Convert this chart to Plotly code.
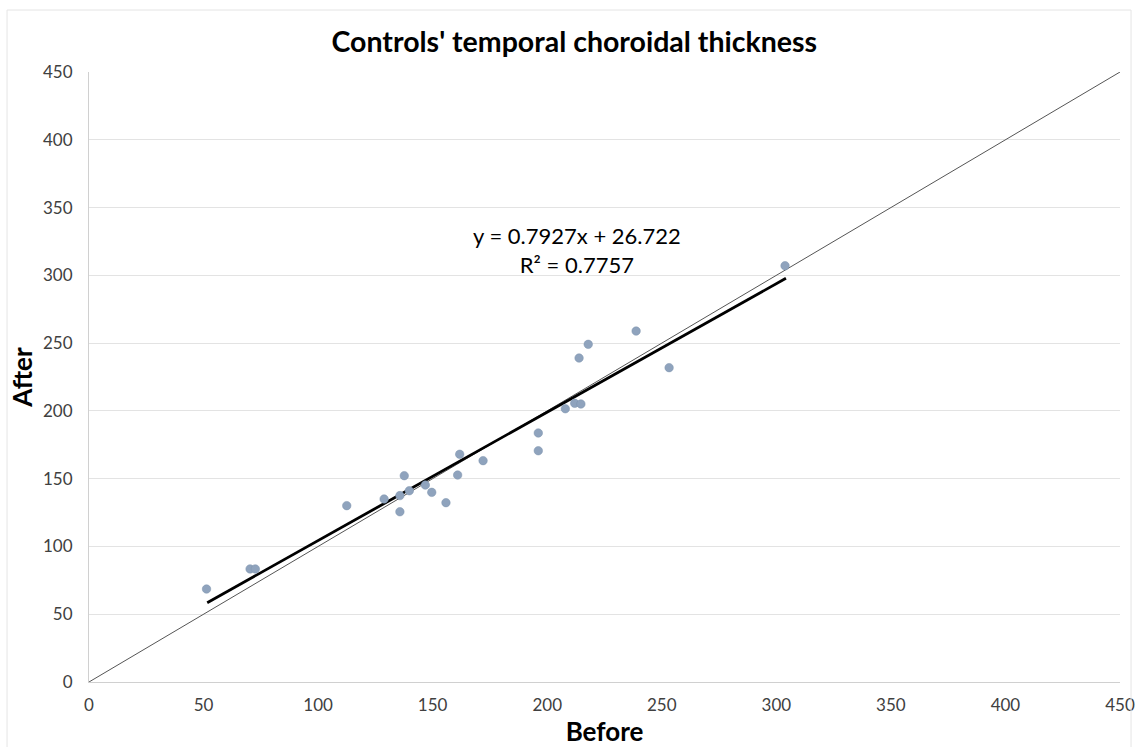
import plotly.graph_objects as go

# Data
before = [51.3, 70.3, 72.6, 112.5, 128.8, 135.7, 135.7, 137.6, 139.8, 146.8,
          149.6, 155.8, 160.9, 161.8, 172.0, 196.1, 196.1, 207.9, 212.0, 214.7,
          213.9, 217.9, 238.8, 253.2, 303.8]
after = [68.6, 83.4, 83.4, 130.1, 135.0, 125.6, 137.5, 152.2, 141.1, 145.3,
         139.9, 132.3, 152.7, 168.0, 163.3, 170.6, 183.7, 201.6, 205.6, 205.1,
         239.0, 249.1, 258.9, 231.9, 307.1]
# Trendline as drawn in the chart (endpoints)
trend_x = [51.6, 304.2]
trend_y = [58.5, 297.8]
equation = "y = 0.7927x + 26.722"
r2_label = "R² = 0.7757"
identity = [0, 450]
ticks = [0, 50, 100, 150, 200, 250, 300, 350, 400, 450]

font_fam = "Lato, 'Open Sans', Arial, sans-serif"

fig = go.Figure()
fig.add_trace(go.Scatter(x=identity, y=identity, mode="lines",
                         line=dict(color="#555555", width=1), hoverinfo="skip"))
fig.add_trace(go.Scatter(x=trend_x, y=trend_y, mode="lines",
                         line=dict(color="#000000", width=2.8)))
fig.add_trace(go.Scatter(x=before, y=after, mode="markers",
                         marker=dict(color="#8fa3bd", size=8.5,
                                     line=dict(color="#7d92ad", width=0.5))))

fig.update_layout(
    width=1135, height=747,
    margin=dict(l=89, r=15, t=72, b=65),
    paper_bgcolor="white", plot_bgcolor="white",
    showlegend=False,
    font=dict(family=font_fam, color="#404040"),
    title=dict(text="<b>Controls' temporal choroidal thickness</b>",
               x=0.506, xanchor="center", y=0.9438, yanchor="middle",
               font=dict(size=28.5, color="#000000", family=font_fam)),
    xaxis=dict(range=[0, 450], tickvals=ticks, showgrid=False, zeroline=False,
               showline=True, linecolor="#d0d0d0", linewidth=1,
               tickfont=dict(size=17, color="#404040"), ticks="",
               ticklabelstandoff=8, automargin=False,
               title=dict(text="<b>Before</b>", font=dict(size=26, color="#000000"), standoff=13)),
    yaxis=dict(range=[0, 450], tickvals=ticks, showgrid=True, gridcolor="#e3e3e3",
               zeroline=False, showline=True, linecolor="#d0d0d0", linewidth=1,
               tickfont=dict(size=17, color="#404040"), ticks="",
               ticklabelstandoff=12, automargin=False,
               title=dict(text="<b>After</b>", font=dict(size=26, color="#000000"), standoff=2)),
    annotations=[
        dict(text=f"{equation}<br>{r2_label}",
             x=0.473, y=0.708, xref="paper", yref="paper", showarrow=False,
             xanchor="center", yanchor="middle",
             font=dict(size=22, color="#000000"), align="center"),
    ],
    shapes=[dict(type="rect", xref="paper", yref="paper",
                 x0=-0.0795, x1=1.0107, y0=-0.2, y1=1.1016,
                 line=dict(color="#e5e5e5", width=1))],
)

fig.write_html("out.html",
               config={"displayModeBar": False},
               post_script="document.body.style.margin='0';"
                           "document.documentElement.style.overflow='hidden';")
